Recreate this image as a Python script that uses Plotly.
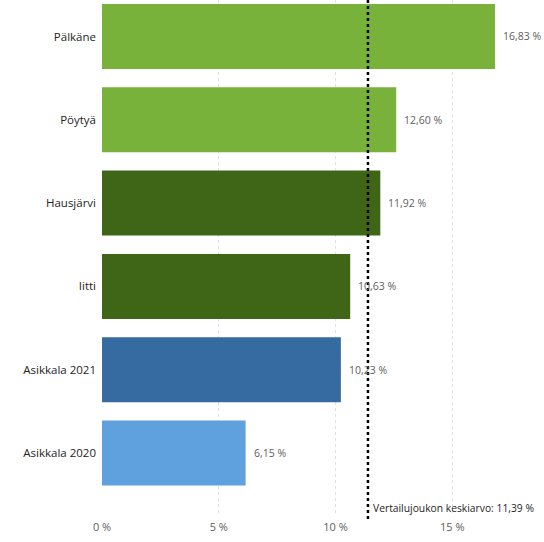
import plotly.graph_objects as go

# Data (top to bottom in the picture)
categories = ["Pälkäne", "Pöytyä", "Hausjärvi", "Iitti", "Asikkala 2021", "Asikkala 2020"]
values = [16.83, 12.60, 11.92, 10.63, 10.23, 6.15]
colors = ["#79B23A", "#79B23A", "#3F6617", "#3F6617", "#356BA1", "#5EA1DE"]
mean_value = 11.39
mean_label = "Vertailujoukon keskiarvo: 11,39 %"
tick_values = [0, 5, 10, 15]
tick_labels = ["0 %", "5 %", "10 %", "15 %"]

# plot bottom-to-top in Plotly's categorical order
cats = categories[::-1]
vals = values[::-1]
cols = colors[::-1]

def fmt(v):
    return f"{v:.2f}".replace(".", ",") + " %"

font_family = "Open Sans, Noto Sans, sans-serif"

fig = go.Figure()
fig.add_trace(go.Bar(
    x=vals, y=cats, orientation="h",
    marker=dict(color=cols, line=dict(width=0)),
    hoverinfo="skip",
))

for c, v in zip(cats, vals):
    fig.add_annotation(
        x=v, y=c, xref="x", yref="y", text=fmt(v), showarrow=False,
        xanchor="left", xshift=6, font=dict(size=10.5, color="#605E5C", family=font_family),
    )

fig.add_shape(
    type="line", x0=mean_value, x1=mean_value, xref="x", yref="paper", y0=-0.008, y1=1,
    line=dict(color="black", width=2.5, dash="dot"), layer="above",
)
fig.add_annotation(
    x=mean_value, y=0.013, xref="x", yref="paper", text=mean_label, showarrow=False,
    xanchor="left", yanchor="middle", xshift=3,
    font=dict(size=10.3, color="#252423", family=font_family),
)

fig.update_layout(
    width=544, height=542,
    margin=dict(l=102, r=0, t=0, b=27),
    plot_bgcolor="white", paper_bgcolor="white",
    bargap=0.22,
    showlegend=False,
    font=dict(family=font_family, size=11, color="#605E5C"),
    xaxis=dict(
        range=[0, 18.93], tickvals=tick_values, ticktext=tick_labels,
        showgrid=True, gridcolor="#E1E1E1", griddash="dot", gridwidth=1,
        zeroline=False, showline=False, ticks="",
        tickfont=dict(size=11, color="#605E5C"),
        automargin=False, ticklabelstandoff=4,
    ),
    yaxis=dict(
        type="category", categoryorder="array", categoryarray=cats,
        range=[-0.744, 5.438], showgrid=False, zeroline=False, showline=False,
        ticks="", tickfont=dict(size=11.5, color="#252423"),
        automargin=False, ticklabelstandoff=5,
    ),
)

fig.write_html(
    "out.html",
    config={"displayModeBar": False},
    post_script="document.body.style.margin='0';document.body.style.overflow='hidden';",
)
